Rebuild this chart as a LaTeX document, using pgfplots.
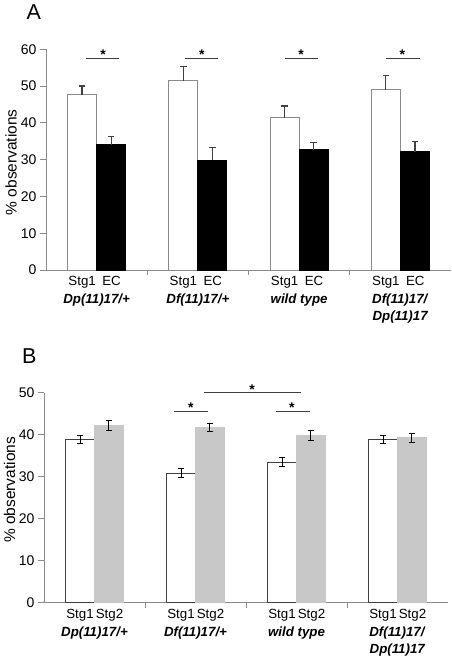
\documentclass[border=0pt]{standalone}
\usepackage{fontspec}
\setmainfont{Liberation Sans}
\usepackage{pgfplots}
\pgfplotsset{compat=1.18}
\definecolor{axgray}{HTML}{8A8A8A}
\definecolor{errgray}{HTML}{404040}
\definecolor{lightbar}{HTML}{C8C8C8}
\newcommand{\gl}[2]{\makebox[30pt]{#1}\makebox[29pt]{#2}}
\newcommand{\gt}[1]{\textbf{\textit{#1}}}

\pgfplotsset{
  panel/.style={
    scale only axis,
    ybar=0pt, bar width=0.287,
    xmin=-0.5, xmax=3.5,
    axis lines*=left,
    axis line style={axgray, line width=0.8pt},
    xtick={0,1,2,3},
    minor xtick={0.5,1.5,2.5},
    major x tick style={draw=none},
    minor x tick style={axgray, line width=0.8pt},
    tick align=outside,
    minor tick length=5pt,
    major tick length=6pt,
    y tick style={axgray, line width=0.8pt},
    /pgf/number format/assume math mode=true,
    yticklabel style={font=\fontsize{14}{16}\selectfont},
    xticklabel style={align=center, font=\fontsize{13.3}{17.5}\selectfont, yshift=3pt},
    ylabel={\% observations},
    clip=false,
  }
}

\begin{document}
\begin{tikzpicture}[x=1pt,y=1pt]
\useasboundingbox (0,0) rectangle (452,656);
\node[anchor=north west,font=\fontsize{21.5}{24}\selectfont,inner sep=0pt] at (26.5,651) {A};
\node[anchor=north west,font=\fontsize{21.5}{24}\selectfont,inner sep=0pt] at (22,307.7) {B};

\begin{axis}[panel,
  at={(46pt,386pt)}, anchor=south west,
  width=405pt, height=220.7pt,
  ymin=0, ymax=60, ytick={0,10,...,60},
  every axis y label/.style={at={(axis description cs:-0.0864,0.488)}, rotate=90, anchor=center, font=\fontsize{15.5}{17}\selectfont},
  xticklabels={
    {\gl{Stg1}{EC}\\\gt{Dp(11)17/+}},
    {\gl{Stg1}{EC}\\\gt{Df(11)17/+}},
    {\gl{Stg1}{EC}\\\gt{wild type}},
    {\gl{Stg1}{EC}\\\gt{Df(11)17/}\\\gt{Dp(11)17}}},
]
\addplot[fill=white, draw=axgray, line width=0.9pt,
  error bars/.cd, y dir=plus, y explicit,
  error bar style={errgray, line width=1.2pt},
  error mark options={rotate=90, errgray, line width=1.2pt, mark size=3.3pt}]
  table[x=x, y=y, y error=e] {
x y e
0 47.7 2.3
1 51.4 3.9
2 41.4 3.2
3 49.0 3.9
};
\addplot[fill=black, draw=black, line width=0.9pt,
  error bars/.cd, y dir=plus, y explicit,
  error bar style={errgray, line width=1.2pt},
  error mark options={rotate=90, errgray, line width=1.2pt, mark size=3.3pt}]
  table[x=x, y=y, y error=e] {
x y e
0 34.0 2.2
1 29.8 3.6
2 32.7 2.0
3 32.2 2.8
};
\draw[errgray, line width=0.9pt] (axis cs:-0.105,57.5) -- (axis cs:0.221,57.5);
\draw[errgray, line width=0.9pt] (axis cs:0.873,57.5) -- (axis cs:1.20,57.5);
\draw[errgray, line width=0.9pt] (axis cs:1.86,57.5) -- (axis cs:2.19,57.5);
\draw[errgray, line width=0.9pt] (axis cs:2.855,57.5) -- (axis cs:3.197,57.5);
\node[font=\bfseries\fontsize{14}{15}\selectfont] at (axis cs:0.063,58.5) {*};
\node[font=\bfseries\fontsize{14}{15}\selectfont] at (axis cs:1.04,58.5) {*};
\node[font=\bfseries\fontsize{14}{15}\selectfont] at (axis cs:2.02,58.5) {*};
\node[font=\bfseries\fontsize{14}{15}\selectfont] at (axis cs:3.02,58.5) {*};
\end{axis}

\begin{axis}[panel,
  at={(44pt,53.3pt)}, anchor=south west,
  width=404pt, height=210pt,
  ymin=0, ymax=50, ytick={0,10,...,50},
  every axis y label/.style={at={(axis description cs:-0.085,0.537)}, rotate=90, anchor=center, font=\fontsize{15.5}{17}\selectfont},
  xticklabels={
    {\gl{Stg1}{Stg2}\\\gt{Dp(11)17/+}},
    {\gl{Stg1}{Stg2}\\\gt{Df(11)17/+}},
    {\gl{Stg1}{Stg2}\\\gt{wild type}},
    {\gl{Stg1}{Stg2}\\\gt{Df(11)17/}\\\gt{Dp(11)17}}},
]
\addplot[fill=white, draw=errgray, line width=0.9pt,
  error bars/.cd, y dir=both, y explicit,
  error bar style={black, line width=1pt},
  error mark options={rotate=90, black, line width=1pt, mark size=3pt}]
  table[x=x, y=y, y error=e] {
x y e
0 38.8 0.9
1 30.8 1.1
2 33.5 1.0
3 38.8 0.9
};
\addplot[fill=lightbar, draw=lightbar, line width=0.5pt,
  error bars/.cd, y dir=both, y explicit,
  error bar style={black, line width=1pt},
  error mark options={rotate=90, black, line width=1pt, mark size=3pt}]
  table[x=x, y=y, y error=e] {
x y e
0 42.2 1.1
1 41.7 1.0
2 39.8 1.1
3 39.3 1.1
};
\draw[errgray, line width=0.9pt] (axis cs:0.787,45.5) -- (axis cs:1.124,45.5);
\draw[errgray, line width=0.9pt] (axis cs:1.084,50) -- (axis cs:2.045,50);
\draw[errgray, line width=0.9pt] (axis cs:1.797,45.5) -- (axis cs:2.134,45.5);
\node[font=\bfseries\fontsize{14}{15}\selectfont] at (axis cs:0.955,46.4) {*};
\node[font=\bfseries\fontsize{14}{15}\selectfont] at (axis cs:1.56,50.7) {*};
\node[font=\bfseries\fontsize{14}{15}\selectfont] at (axis cs:1.955,46.4) {*};
\end{axis}
\end{tikzpicture}
\end{document}
